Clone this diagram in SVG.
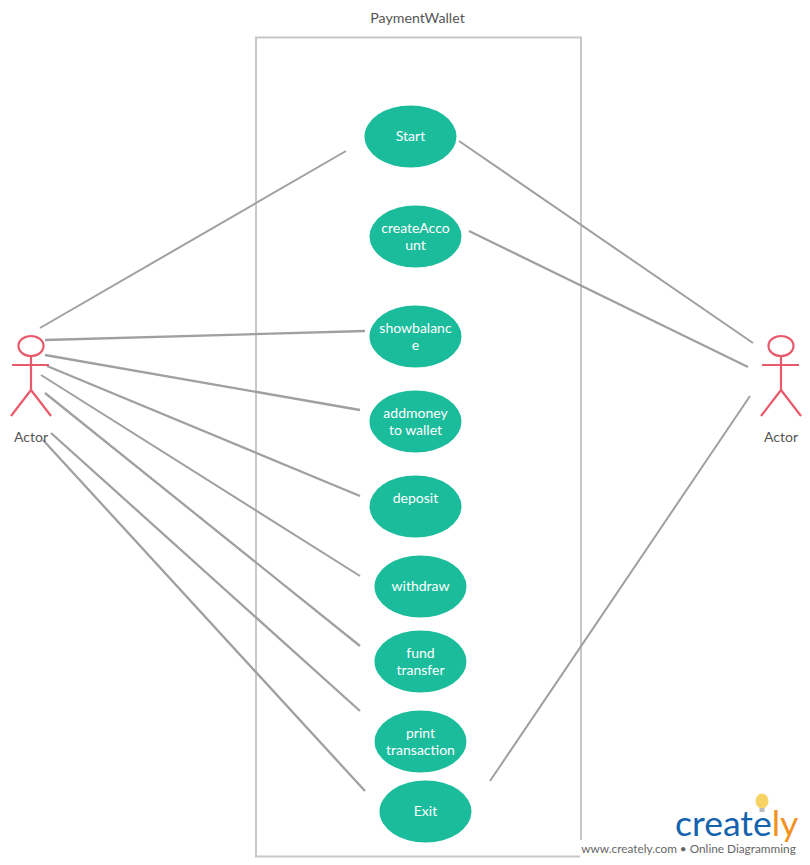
<svg xmlns="http://www.w3.org/2000/svg" width="810" height="865" viewBox="0 0 810 865">
<style>
text{font-family:Lato,"Liberation Sans",sans-serif;font-size:14px;text-anchor:middle}
.t{fill:#fff}.l{fill:#555}
.uc{fill:#1abc9c}
#connectors line{stroke:#a0a0a0;stroke-width:2;fill:none}
#connectors line.b{stroke-width:2.300}
.actor *{stroke:#e85a6b;stroke-width:2.200;fill:none}
</style>
<rect width="810" height="865" fill="#fff"/>
<g id="boundary"><rect x="256" y="37.500" width="325" height="819" fill="none" stroke="#c8c8c8" stroke-width="2"/><text class="l" x="417.500" y="23" style="font-size:14.200px">PaymentWallet</text></g>
<g id="connectors">
<line x1="40" y1="328" x2="346" y2="151"/>
<line class="b" x1="45" y1="340" x2="365" y2="331"/>
<line class="b" x1="45" y1="355" x2="360" y2="410"/>
<line class="b" x1="47" y1="366" x2="360" y2="496"/>
<line x1="41" y1="375" x2="360" y2="576"/>
<line class="b" x1="45" y1="393" x2="360" y2="646"/>
<line class="b" x1="51" y1="433" x2="360" y2="711"/>
<line class="b" x1="43" y1="440" x2="365" y2="791"/>
<line x1="459" y1="141" x2="753" y2="343"/>
<line class="b" x1="469" y1="231" x2="748" y2="367"/>
<line x1="490" y1="781" x2="750" y2="396"/>
</g>
<g id="actor-left" class="actor"><ellipse cx="31" cy="346" rx="12.500" ry="10"/><path d="M31 356V390M12 365H49M31 390L11 416M31 390L51 416"/></g>
<text class="l" x="31" y="442">Actor</text>
<g id="actor-right" class="actor"><ellipse cx="781" cy="346" rx="12.500" ry="10"/><path d="M781 356V390M762 365H799M781 390L761 416M781 390L801 416"/></g>
<text class="l" x="781" y="442">Actor</text>
<g id="start"><ellipse class="uc" cx="410.500" cy="136.500" rx="46" ry="31"/><text class="t" x="410.500" y="141">Start</text></g>
<g id="createAccount"><ellipse class="uc" cx="415.500" cy="236.500" rx="46" ry="31"/><text class="t" x="415.500" y="233">createAcco</text><text class="t" x="415.500" y="250">unt</text></g>
<g id="showbalance"><ellipse class="uc" cx="415.500" cy="336.500" rx="46" ry="31"/><text class="t" x="415.500" y="333">showbalanc</text><text class="t" x="415.500" y="350">e</text></g>
<g id="addmoney"><ellipse class="uc" cx="415.500" cy="421.500" rx="46" ry="31"/><text class="t" x="415.500" y="418">addmoney</text><text class="t" x="415.500" y="435">to wallet</text></g>
<g id="deposit"><ellipse class="uc" cx="415.500" cy="506.500" rx="46" ry="31"/><text class="t" x="415.500" y="503">deposit</text></g>
<g id="withdraw"><ellipse class="uc" cx="420.500" cy="586.500" rx="46" ry="31"/><text class="t" x="420.500" y="591">withdraw</text></g>
<g id="fundtransfer"><ellipse class="uc" cx="420.500" cy="661.500" rx="46" ry="31"/><text class="t" x="420.500" y="658">fund</text><text class="t" x="420.500" y="675">transfer</text></g>
<g id="printtransaction"><ellipse class="uc" cx="420.500" cy="741.500" rx="46" ry="31"/><text class="t" x="420.500" y="738">print</text><text class="t" x="420.500" y="755">transaction</text></g>
<g id="exit"><ellipse class="uc" cx="425.500" cy="811.500" rx="46" ry="31"/><text class="t" x="425.500" y="816">Exit</text></g>
<g id="watermark">
<rect x="580" y="840" width="230" height="25" fill="#fff"/>
<ellipse cx="762" cy="801" rx="6.500" ry="7.500" fill="#f6d365"/><rect x="759.500" y="808" width="5" height="4" fill="#bbb"/>
<text x="675" y="836" style="font-size:35.500px;fill:#1464ad;font-family:Lato,sans-serif;text-anchor:start">create<tspan fill="#f29222">ly</tspan></text>
<text x="688.500" y="853" style="font-size:11.800px;fill:#666">www.creately.com • Online Diagramming</text>
</g>
</svg>
